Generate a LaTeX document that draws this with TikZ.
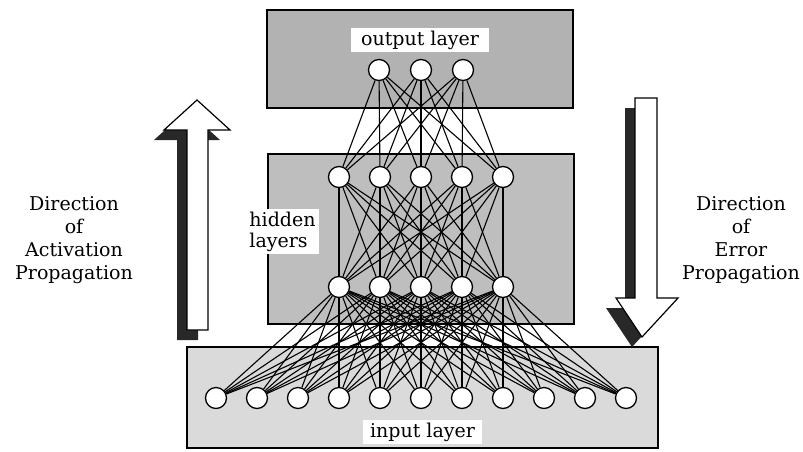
\documentclass[tikz,border=0pt]{standalone}
\usepackage{fontspec}
\setmainfont{DejaVu Serif}
\definecolor{outgray}{RGB}{178,178,178}
\definecolor{hidgray}{RGB}{190,190,190}
\definecolor{ingray}{RGB}{218,218,218}
\definecolor{shadowc}{RGB}{40,40,40}
\begin{document}
\begin{tikzpicture}[x=1pt,y=-1pt,
  neuron/.style={circle,draw,fill=white,minimum size=21pt,inner sep=0pt,line width=1.3pt},
  layerbox/.style={draw,line width=1.6pt},
  lbl/.style={fill=white,inner ysep=3pt,font=\fontsize{19}{21}\selectfont},
  sidetext/.style={align=center,font=\fontsize{19}{23}\selectfont},
  conn/.style={line width=1.1pt},
  bigarrow/.style={draw,fill=white,line width=1.2pt,line join=miter},
  arrowshadow/.style={fill=shadowc}]
\useasboundingbox (0,0) rectangle (803,451);
\fill[white] (0,0) rectangle (803,451);

% layer boxes
\draw[layerbox,fill=outgray] (267,10) rectangle (573,108);
\draw[layerbox,fill=hidgray] (268,154) rectangle (574,324);
\draw[layerbox,fill=ingray] (187,347) rectangle (658,448);

% labels
\node[lbl,inner xsep=10pt] (outlbl) at (420,40) {output layer};
\node[lbl,inner xsep=3pt,align=left] (hidlbl) at (282.5,231.5) {hidden\\layers};
\node[lbl,inner xsep=7pt] (inlbl) at (422.5,432) {input layer};

% neurons
\foreach \k in {1,2,3} \node[neuron] (o\k) at ({421+(\k-2)*42},70) {};
\foreach \k in {1,...,5} \node[neuron] (h\k) at ({421+(\k-3)*41},177) {};
\foreach \k in {1,...,5} \node[neuron] (g\k) at ({421+(\k-3)*41},287) {};
\foreach \k in {1,...,11} \node[neuron] (i\k) at ({421+(\k-6)*41},398) {};

% connections
\foreach \a in {1,2,3} \foreach \b in {1,...,5} \draw[conn] (o\a) -- (h\b);
\foreach \a in {1,...,5} \foreach \b in {1,...,5} \draw[conn] (h\a) -- (g\b);
\foreach \a in {1,...,5} \foreach \b in {1,...,11} \draw[conn] (g\a) -- (i\b);

% activation arrow (up)
\fill[arrowshadow,shift={(-10,10)}] (187,330) -- (187,130) -- (164,130) -- (197,100) -- (230,130) -- (208,130) -- (208,330) -- cycle;
\draw[bigarrow] (187,330) -- (187,130) -- (164,130) -- (197,100) -- (230,130) -- (208,130) -- (208,330) -- cycle;
% error arrow (down)
\fill[arrowshadow,shift={(-10,10)}] (635,98) -- (635,298) -- (616,298) -- (642,337) -- (678,298) -- (657,298) -- (657,98) -- cycle;
\draw[bigarrow] (635,98) -- (635,298) -- (616,298) -- (642,337) -- (678,298) -- (657,298) -- (657,98) -- cycle;

% side texts
\node[sidetext] (acttext) at (74,240) {Direction\\of\\Activation\\Propagation};
\node[sidetext] (errtext) at (741,240) {Direction\\of\\Error\\Propagation};
\end{tikzpicture}
\end{document}
